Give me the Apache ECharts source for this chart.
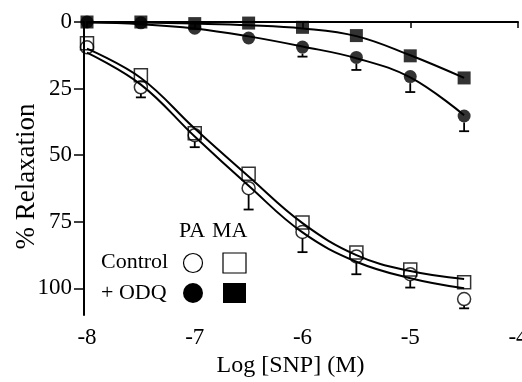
<!DOCTYPE html>
<html>
<head>
<meta charset="utf-8">
<script src="https://cdn.jsdelivr.net/npm/echarts@6/dist/echarts.min.js"></script>
<style>
  html, body { margin: 0; padding: 0; background: #fff; }
  #chart { width: 522px; height: 382px; }
</style>
</head>
<body>
<div id="chart"></div>
<script>
// log [SNP] (M)
const logConc = [-8, -7.5, -7, -6.5, -6, -5.5, -5, -4.5];

// measured points (% relaxation)
const ctrlPA = [9.5, 24.5, 42.5, 62.4, 78.8, 88, 94.7, 104];
const ctrlMA = [8, 20, 41.8, 57, 75.3, 86.5, 92.9, 97.7];
const odqPA = [0, 0.3, 2.3, 6, 9.4, 13.3, 20.5, 35.3];
const odqMA = [0, 0, 0.6, 0.4, 2, 5.1, 12.7, 21];

// error bars (drawn one side only)
const ctrlPAErr = [0, 3.8, 4.5, 8, 7.6, 6.7, 5, 3.5];
const odqPAErr = [0, 0, 0, 2.3, 3.6, 4.7, 5.8, 5.7];

// fitted curves
const fitCtrlPA = [11.5, 23.5, 43, 61.5, 79, 90, 96.2, 100];
const fitCtrlMA = [10, 21, 40, 58, 75.5, 87.5, 93.5, 96.5];
const fitOdqPA = [0.2, 0.8, 2.4, 5.4, 9.2, 13.6, 20.8, 35];
const fitOdqMA = [0, 0.2, 0.6, 1.2, 2.4, 5.3, 12.5, 21];

const yTicks = [0, 25, 50, 75, 100];
const xTicks = [-8, -7, -6, -5, -4];

const font = 'Liberation Serif';
const pairs = (ys) => logConc.map((x, i) => [x, ys[i]]);

const chart = echarts.init(document.getElementById('chart'));

function fitLine(ys) {
    return {
        type: 'line',
        data: pairs(ys),
        smooth: 0.4,
        showSymbol: false,
        silent: true,
        z: 2,
        lineStyle: {color: '#000', width: 2}
    };
}

function points(ys, symbol, filled) {
    return {
        type: 'scatter',
        data: pairs(ys),
        symbol: symbol,
        symbolSize: 13,
        z: 4,
        itemStyle: {
            color: filled ? '#000' : 'rgba(0,0,0,0)',
            borderColor: '#000',
            borderWidth: filled ? 0 : 1.5
        }
    };
}

function errBars(ys, errs) {
    return {
        type: 'custom',
        z: 3,
        data: logConc.map((x, i) => [x, ys[i], errs[i]]),
        renderItem(params, api) {
            const x = api.value(0), y = api.value(1), e = api.value(2);
            const p0 = api.coord([x, y]);
            const p1 = api.coord([x, y + e]);
            if (p1[1] - p0[1] < 7) return null;
            const style = {stroke: '#000', lineWidth: 1.8};
            return {
                type: 'group',
                children: [
                    {type: 'line', shape: {x1: p0[0], y1: p0[1] + 6.5, x2: p1[0], y2: p1[1]}, style},
                    {type: 'line', shape: {x1: p1[0] - 5, y1: p1[1], x2: p1[0] + 5, y2: p1[1]}, style}
                ]
            };
        }
    };
}

const textStyle = {font: '22px "Liberation Serif"', fill: '#000'};

const option = {
    animation: false,
    backgroundColor: '#fff',
    textStyle: {fontFamily: font, color: '#000'},
    grid: {left: 87, right: 4, top: 22, bottom: 67, containLabel: false, outerBoundsMode: 'none'},
    xAxis: {
        type: 'value',
        min: -8,
        max: -4,
        interval: 1,
        offset: 3,
        name: 'Log [SNP] (M)',
        nameLocation: 'middle',
        nameGap: 36,
        nameMoveOverlap: false,
        nameTextStyle: {fontFamily: font, fontSize: 24, color: '#000', padding: [0, 24, 0, 0]},
        axisLine: {lineStyle: {color: '#000', width: 2}},
        axisTick: {length: 6, lineStyle: {color: '#000', width: 1.5}, customValues: xTicks},
        axisLabel: {fontFamily: font, fontSize: 23, color: '#000', margin: 8, customValues: xTicks},
        splitLine: {show: false}
    },
    yAxis: {
        type: 'value',
        min: 0,
        max: 110,
        inverse: true,
        offset: 3,
        name: '% Relaxation',
        nameLocation: 'middle',
        nameGap: 44,
        nameMoveOverlap: false,
        nameRotate: 90,
        nameTextStyle: {fontFamily: font, fontSize: 27, color: '#000', padding: [0, 16, 0, 0]},
        axisLine: {lineStyle: {color: '#000', width: 2}},
        axisTick: {length: 10, lineStyle: {color: '#000', width: 1.5}, customValues: yTicks},
        axisLabel: {fontFamily: font, fontSize: 23, color: '#000', margin: 12, customValues: yTicks},
        splitLine: {show: false}
    },
    graphic: [
        {type: 'text', left: 179, top: 220, style: {...textStyle, text: 'PA'}},
        {type: 'text', left: 212, top: 220, style: {...textStyle, text: 'MA'}},
        {type: 'text', left: 101, top: 251, style: {...textStyle, text: 'Control'}},
        {type: 'text', left: 101, top: 282, style: {...textStyle, text: '+ ODQ'}},
        {type: 'circle', shape: {cx: 193, cy: 263, r: 9.5}, style: {fill: '#fff', stroke: '#000', lineWidth: 1.2}},
        {type: 'rect', shape: {x: 223, y: 253, width: 23, height: 20}, style: {fill: '#fff', stroke: '#000', lineWidth: 1.2}},
        {type: 'circle', shape: {cx: 193, cy: 293, r: 10}, style: {fill: '#000'}},
        {type: 'rect', shape: {x: 223, y: 283, width: 23, height: 20}, style: {fill: '#000'}}
    ],
    series: [
        fitLine(fitCtrlPA),
        fitLine(fitCtrlMA),
        fitLine(fitOdqPA),
        fitLine(fitOdqMA),
        errBars(ctrlPA, ctrlPAErr),
        errBars(odqPA, odqPAErr),
        points(ctrlPA, 'circle', false),
        points(ctrlMA, 'rect', false),
        points(odqPA, 'circle', true),
        points(odqMA, 'rect', true)
    ]
};

chart.setOption(option);
</script>
</body>
</html>
